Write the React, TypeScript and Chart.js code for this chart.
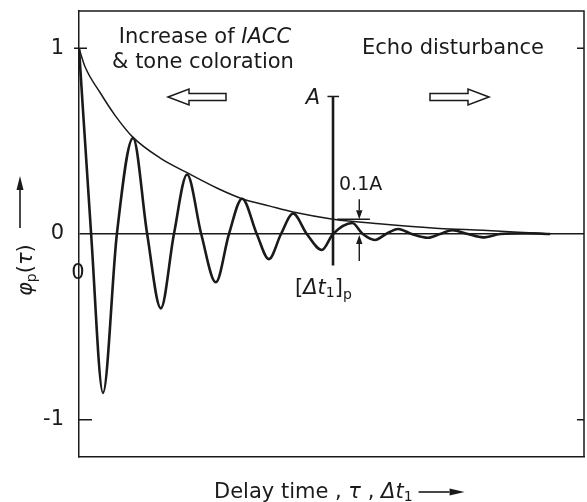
import { useEffect, useRef } from "react";
import { Chart, registerables } from "chart.js";
Chart.register(...registerables);

// Autocorrelation function φp(τ): extrema and zero crossings
const waveTau = [0, 2.4, 4.75, 7.5, 10.7, 13.5, 16.2, 18.8, 21.4, 24.2, 27.1, 29.7, 32.3, 35.2, 37.6, 40.0, 42.4, 45.1, 48.1, 50.3, 54.1, 56.2, 58.6, 60.8, 63.2, 65.9, 69.1, 71.5, 73.9, 77.0, 80.0, 83.4, 88.3, 93.3];
const wavePhi = [1, 0, -0.855, 0, 0.516, 0, -0.4, 0, 0.32, 0, -0.26, 0, 0.19, 0, -0.135, 0, 0.11, 0, -0.086, 0, 0.059, 0, -0.032, 0, 0.027, 0, -0.02, 0, 0.02, 0, -0.018, 0, 0.004, 0];

// Envelope
const envTau = [0, 1.2, 4.2, 7.1, 10.7, 16.0, 21.4, 27.5, 32.3, 37.8, 42.4, 50.3, 59.4, 71.3, 80.0, 87.0, 93.3];
const envPhi = [1, 0.9, 0.76, 0.64, 0.52, 0.41, 0.33, 0.245, 0.19, 0.15, 0.118, 0.08, 0.055, 0.03, 0.02, 0.01, 0];

// Axis
const yTicks = [-1, 0, 1];
const yTickLabels = ["-1", "0", "1"];
const X_MIN = 0;
const X_MAX = 100;
const Y_MIN = -1.2;
const Y_MAX = 1.2;

// Annotation values
const markerTau = [50.3, 50.3]; // [Δt1]p
const markerPhi = [0.74, -0.17];
const markerCapTau = [49.2, 51.5];
const tenthTau = [51.1, 57.6];
const tenthPhi = 0.08; // 0.1A level
const arrowTau = 55.5;

const FONT = '"DejaVu Sans", sans-serif';
const INK = "#1a1a1a";

type Run = { text: string; size: number; italic?: boolean; dy?: number };

function drawRuns(ctx: CanvasRenderingContext2D, runs: Run[], x: number, y: number, align: "left" | "center") {
  ctx.textBaseline = "alphabetic";
  ctx.textAlign = "left";
  const widths = runs.map((r) => {
    ctx.font = `${r.italic ? "italic " : ""}${r.size}px ${FONT}`;
    return ctx.measureText(r.text).width;
  });
  const total = widths.reduce((a, b) => a + b, 0);
  let cx = align === "center" ? x - total / 2 : x;
  runs.forEach((r, i) => {
    ctx.font = `${r.italic ? "italic " : ""}${r.size}px ${FONT}`;
    ctx.fillText(r.text, cx, y + (r.dy || 0));
    cx += widths[i];
  });
  return total;
}

function hollowArrow(ctx: CanvasRenderingContext2D, tip: number, back: number, tail: number, y: number) {
  ctx.beginPath();
  ctx.moveTo(tip, y);
  ctx.lineTo(back, y - 8);
  ctx.lineTo(back, y - 3.5);
  ctx.lineTo(tail, y - 3.5);
  ctx.lineTo(tail, y + 3.5);
  ctx.lineTo(back, y + 3.5);
  ctx.lineTo(back, y + 8);
  ctx.closePath();
  ctx.stroke();
}

function solidArrow(ctx: CanvasRenderingContext2D, x1: number, y1: number, x2: number, y2: number, len = 9, half = 3.2) {
  const a = Math.atan2(y2 - y1, x2 - x1);
  const bx = x2 - len * Math.cos(a);
  const by = y2 - len * Math.sin(a);
  ctx.beginPath();
  ctx.moveTo(x1, y1);
  ctx.lineTo(bx, by);
  ctx.stroke();
  ctx.beginPath();
  ctx.moveTo(x2, y2);
  ctx.lineTo(bx + half * Math.sin(a), by - half * Math.cos(a));
  ctx.lineTo(bx - half * Math.sin(a), by + half * Math.cos(a));
  ctx.closePath();
  ctx.fill();
}

const decorations = {
  id: "decorations",
  afterDraw(chart: any) {
    const ctx: CanvasRenderingContext2D = chart.ctx;
    const { left, right, top, bottom } = chart.chartArea;
    const xs = chart.scales.x;
    const ys = chart.scales.y;
    ctx.save();
    ctx.strokeStyle = INK;
    ctx.fillStyle = INK;
    ctx.lineWidth = 1.5;
    // frame top / right
    ctx.beginPath();
    ctx.moveTo(left, top);
    ctx.lineTo(right, top);
    ctx.lineTo(right, bottom);
    ctx.stroke();
    // tick marks
    ctx.beginPath();
    const y1 = ys.getPixelForValue(1);
    const ym1 = ys.getPixelForValue(-1);
    ctx.moveTo(left - 5, y1);
    ctx.lineTo(left + 8, y1);
    ctx.moveTo(left, ym1);
    ctx.lineTo(left + 13, ym1);
    ctx.moveTo(right - 7, y1);
    ctx.lineTo(right, y1);
    ctx.moveTo(right - 7, ym1);
    ctx.lineTo(right, ym1);
    ctx.stroke();

    // texts
    drawRuns(ctx, [{ text: "Increase of ", size: 21 }, { text: "IACC", size: 21, italic: true }], 205, 43, "center");
    drawRuns(ctx, [{ text: "& tone coloration", size: 21 }], 203, 68, "center");
    drawRuns(ctx, [{ text: "Echo disturbance", size: 21 }], 453, 54, "center");

    hollowArrow(ctx, 168, 189, 226, 97);
    hollowArrow(ctx, 489, 468, 430, 97);

    const ax = xs.getPixelForValue(markerTau[0]);
    const aTop = ys.getPixelForValue(markerPhi[0]);
    drawRuns(ctx, [{ text: "A", size: 21, italic: true }], ax - 20, aTop + 8, "center");
    drawRuns(ctx, [{ text: "0.1A", size: 19 }], ax + 6, 190, "left");
    drawRuns(
      ctx,
      [
        { text: "[", size: 21 },
        { text: "Δt", size: 21, italic: true },
        { text: "1", size: 14, dy: 3 },
        { text: "]", size: 21 },
        { text: "p", size: 14, dy: 5 },
      ],
      ax - 38,
      294,
      "left"
    );
    // 0.1A arrows
    const arx = xs.getPixelForValue(arrowTau);
    const ty = ys.getPixelForValue(tenthPhi);
    const zy = ys.getPixelForValue(0);
    ctx.lineWidth = 1.4;
    solidArrow(ctx, arx, ty - 20, arx, ty);
    solidArrow(ctx, arx, zy + 27, arx, zy + 1);

    // x origin label
    drawRuns(ctx, [{ text: "0", size: 21 }], xs.getPixelForValue(0) - 1, zy + 45, "center");

    // x axis title
    const w = drawRuns(
      ctx,
      [
        { text: "Delay time , ", size: 21 },
        { text: "τ", size: 21, italic: true },
        { text: " , ", size: 21 },
        { text: "Δt", size: 21, italic: true },
        { text: "1", size: 14, dy: 3 },
      ],
      214,
      498,
      "left"
    );
    ctx.lineWidth = 1.6;
    solidArrow(ctx, 214 + w + 6, 492, 214 + w + 52, 492, 15, 3.5);

    // y axis title (rotated)
    ctx.save();
    ctx.translate(32, 296);
    ctx.rotate(-Math.PI / 2);
    drawRuns(
      ctx,
      [
        { text: "φ", size: 21, italic: true },
        { text: "p", size: 14, dy: 4 },
        { text: "(", size: 21 },
        { text: "τ", size: 21, italic: true },
        { text: ")", size: 21 },
      ],
      0,
      0,
      "left"
    );
    ctx.restore();
    ctx.lineWidth = 1.6;
    solidArrow(ctx, 20, 228, 20, 176, 14, 3.5);

    ctx.restore();
  },
};

export default function App() {
  const ref = useRef<HTMLCanvasElement>(null);
  useEffect(() => {
    document.body.style.margin = "0";
    const canvas = ref.current!;
    const pts = (xs: number[], ys: number[]) => xs.map((x, i) => ({ x, y: ys[i] }));
    const chart = new Chart(canvas, {
      type: "line",
      data: {
        datasets: [
          {
            data: pts(envTau, envPhi),
            borderColor: INK,
            borderWidth: 1.5,
            pointRadius: 0,
            cubicInterpolationMode: "monotone",
            fill: false,
          },
          {
            data: pts(waveTau, wavePhi),
            borderColor: INK,
            borderWidth: 2.6,
            pointRadius: 0,
            cubicInterpolationMode: "monotone",
            fill: false,
          },
          {
            data: pts(markerTau, markerPhi),
            borderColor: INK,
            borderWidth: 2.6,
            pointRadius: 0,
            tension: 0,
          },
          {
            data: pts(markerCapTau, [markerPhi[0], markerPhi[0]]),
            borderColor: INK,
            borderWidth: 1.5,
            pointRadius: 0,
            tension: 0,
          },
          {
            data: pts(tenthTau, [tenthPhi, tenthPhi]),
            borderColor: INK,
            borderWidth: 1.5,
            pointRadius: 0,
            tension: 0,
          },
        ],
      } as any,
      options: {
        responsive: false,
        animation: false,
        devicePixelRatio: 1,
        layout: { padding: { top: 11, right: 3, left: 0, bottom: 0 } },
        plugins: { legend: { display: false }, tooltip: { enabled: false } },
        events: [],
        scales: {
          x: {
            type: "linear",
            min: X_MIN,
            max: X_MAX,
            ticks: { display: false },
            grid: { display: false },
            border: { display: true, color: INK, width: 1.5 },
            afterFit: (s: any) => {
              s.height = 45;
              s.paddingLeft = 0;
              s.paddingRight = 0;
            },
          },
          y: {
            type: "linear",
            min: Y_MIN,
            max: Y_MAX,
            afterBuildTicks: (s: any) => {
              s.ticks = yTicks.map((value) => ({ value }));
            },
            ticks: {
              padding: 15,
              color: INK,
              font: { family: "DejaVu Sans", size: 21 },
              callback: (v: any) => yTickLabels[yTicks.indexOf(Number(v))] ?? "",
            },
            grid: {
              drawTicks: false,
              lineWidth: 1.5,
              color: (c: any) => (c.tick && c.tick.value === 0 ? INK : "rgba(0,0,0,0)"),
            },
            border: { display: true, color: INK, width: 1.5 },
            afterFit: (s: any) => {
              s.width = 79;
              s.paddingTop = 0;
              s.paddingBottom = 0;
            },
          },
        },
      } as any,
      plugins: [decorations],
    });
    return () => chart.destroy();
  }, []);
  return (
    <div style={{ position: "absolute", left: 0, top: 0, width: 587, height: 502, background: "#fff" }}>
      <canvas ref={ref} width={587} height={502} style={{ width: 587, height: 502, display: "block" }} />
    </div>
  );
}
